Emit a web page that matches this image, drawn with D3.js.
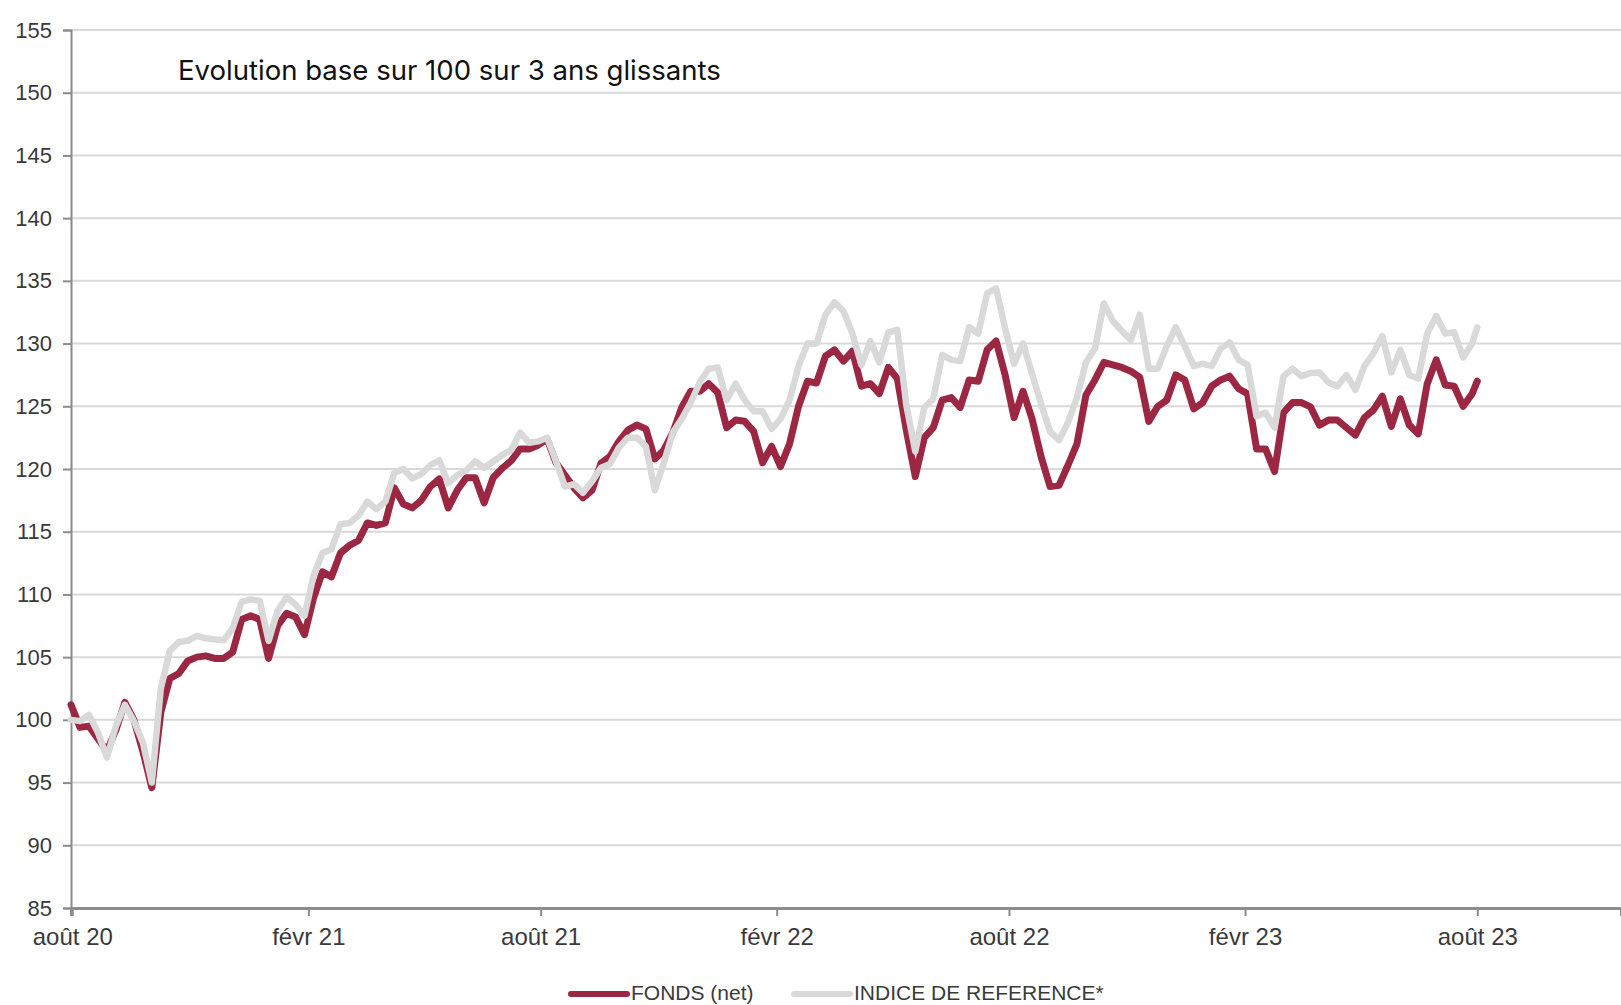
<!DOCTYPE html>
<html lang="fr">
<head>
<meta charset="UTF-8">
<title>Evolution base 100</title>
<script src="https://cdnjs.cloudflare.com/ajax/libs/d3/7.8.5/d3.min.js"></script>
<style>
  body { margin: 0; background: #fff; overflow: hidden; }
  svg { display: block; }
  .tick text { fill: #3a3a3a; font-family: "Liberation Sans", Arial, sans-serif; }
</style>
</head>
<body>
<svg id="chart" width="1621" height="1005"></svg>
<script>
// weekly closes (Fridays), last point 1 Aug 2023
const dates = [
  "2020-07-31","2020-08-07","2020-08-14","2020-08-21","2020-08-28","2020-09-04","2020-09-11","2020-09-18","2020-09-25","2020-10-02",
  "2020-10-09","2020-10-16","2020-10-23","2020-10-30","2020-11-06","2020-11-13","2020-11-20","2020-11-27","2020-12-04","2020-12-11",
  "2020-12-18","2020-12-25","2021-01-01","2021-01-08","2021-01-15","2021-01-22","2021-01-29","2021-02-05","2021-02-12","2021-02-19",
  "2021-02-26","2021-03-05","2021-03-12","2021-03-19","2021-03-26","2021-04-02","2021-04-09","2021-04-16","2021-04-23","2021-04-30",
  "2021-05-07","2021-05-14","2021-05-21","2021-05-28","2021-06-04","2021-06-11","2021-06-18","2021-06-25","2021-07-02","2021-07-09",
  "2021-07-16","2021-07-23","2021-07-30","2021-08-06","2021-08-13","2021-08-20","2021-08-27","2021-09-03","2021-09-10","2021-09-17",
  "2021-09-24","2021-10-01","2021-10-08","2021-10-15","2021-10-22","2021-10-29","2021-11-05","2021-11-12","2021-11-19","2021-11-26",
  "2021-12-03","2021-12-10","2021-12-17","2021-12-24","2021-12-31","2022-01-07","2022-01-14","2022-01-21","2022-01-28","2022-02-04",
  "2022-02-11","2022-02-18","2022-02-25","2022-03-04","2022-03-11","2022-03-18","2022-03-25","2022-04-01","2022-04-08","2022-04-15",
  "2022-04-22","2022-04-29","2022-05-06","2022-05-13","2022-05-20","2022-05-27","2022-06-03","2022-06-10","2022-06-17","2022-06-24",
  "2022-07-01","2022-07-08","2022-07-15","2022-07-22","2022-07-29","2022-08-05","2022-08-12","2022-08-19","2022-08-26","2022-09-02",
  "2022-09-09","2022-09-16","2022-09-23","2022-09-30","2022-10-07","2022-10-14","2022-10-21","2022-10-28","2022-11-04","2022-11-11",
  "2022-11-18","2022-11-25","2022-12-02","2022-12-09","2022-12-16","2022-12-23","2022-12-30","2023-01-06","2023-01-13","2023-01-20",
  "2023-01-27","2023-02-03","2023-02-10","2023-02-17","2023-02-24","2023-03-03","2023-03-10","2023-03-17","2023-03-24","2023-03-31",
  "2023-04-07","2023-04-14","2023-04-21","2023-04-28","2023-05-05","2023-05-12","2023-05-19","2023-05-26","2023-06-02","2023-06-09",
  "2023-06-16","2023-06-23","2023-06-30","2023-07-07","2023-07-14","2023-07-21","2023-07-28","2023-08-01"
];

const fonds = [
  101.2, 99.4, 99.5, 98.5, 97.5, 99.2, 101.4, 100.0, 97.5, 94.6,
  100.6, 103.3, 103.7, 104.7, 105.0, 105.1, 104.9, 104.9, 105.4, 108.0,
  108.3, 108.0, 104.9, 107.5, 108.5, 108.2, 106.8, 109.7, 111.8, 111.4,
  113.3, 113.9, 114.3, 115.7, 115.5, 115.7, 118.5, 117.2, 116.9, 117.5,
  118.6, 119.2, 116.9, 118.3, 119.3, 119.3, 117.3, 119.3, 120.05, 120.65,
  121.6, 121.6, 121.9, 122.4, 120.5, 119.5, 118.5, 117.7, 118.3, 120.45,
  121.0, 122.2, 123.1, 123.5, 123.2, 120.8, 121.5, 122.9, 124.9, 126.2,
  126.2, 126.8, 126.1, 123.3, 123.9, 123.8, 123.0, 120.5, 121.8, 120.2,
  122.0, 125.0, 127.0, 126.85, 129.0, 129.5, 128.6, 129.4, 126.6, 126.8,
  126.0, 128.1, 127.2, 123.1, 119.4, 122.5, 123.3, 125.5, 125.7, 124.9,
  127.1, 127.0, 129.5, 130.2, 127.5, 124.1, 126.2, 124.0, 121.0, 118.6,
  118.7, 120.3, 122.0, 125.9, 127.1, 128.5, 128.3, 128.1, 127.8, 127.3,
  123.8, 125.0, 125.5, 127.5, 127.1, 124.8, 125.3, 126.6, 127.1, 127.4,
  126.4, 126.0, 121.6, 121.6, 119.8, 124.5, 125.3, 125.3, 124.95, 123.5,
  123.9, 123.9, 123.3, 122.7, 124.1, 124.7, 125.8, 123.4, 125.6, 123.5,
  122.8, 126.8, 128.7, 126.7, 126.6, 125.0, 126.0, 127.0
];

const indice = [
  100.0, 99.9, 100.4, 99.0, 97.0, 99.5, 101.2, 99.9, 98.2, 95.0,
  102.5, 105.5, 106.2, 106.3, 106.7, 106.5, 106.4, 106.35, 107.3, 109.4,
  109.6, 109.5, 106.3, 108.7, 109.8, 109.2, 108.3, 111.5, 113.3, 113.6,
  115.6, 115.7, 116.3, 117.4, 116.8, 117.4, 119.7, 120.0, 119.25, 119.6,
  120.3, 120.7, 118.85, 119.5, 119.9, 120.6, 120.1, 120.6, 121.1, 121.5,
  122.9, 122.1, 122.2, 122.5, 120.6, 118.6, 118.8, 118.1, 119.0, 120.1,
  120.4, 121.7, 122.5, 122.5, 121.8, 118.3, 120.5, 122.9, 124.0, 125.3,
  126.9, 128.0, 128.1, 125.5, 126.8, 125.5, 124.6, 124.6, 123.2, 124.0,
  125.5, 128.2, 130.0, 130.0, 132.3, 133.3, 132.6, 130.8, 128.3, 130.2,
  128.5, 130.9, 131.1, 125.1, 121.4, 124.9, 125.6, 129.1, 128.7, 128.6,
  131.3, 130.8, 134.0, 134.4, 131.2, 128.4, 130.0, 127.6, 125.2, 123.0,
  122.3, 123.7, 125.7, 128.5, 129.6, 133.2, 131.8, 131.0, 130.3, 132.3,
  128.0, 128.0, 129.8, 131.3, 129.8, 128.2, 128.4, 128.2, 129.6, 130.1,
  128.7, 128.3, 124.2, 124.5, 123.3, 127.4, 128.0, 127.4, 127.65, 127.7,
  126.9, 126.6, 127.5, 126.3, 128.2, 129.2, 130.6, 127.7, 129.5, 127.5,
  127.2, 130.8, 132.2, 130.8, 130.9, 128.9, 130.0, 131.3
];

const yTicks = [85, 90, 95, 100, 105, 110, 115, 120, 125, 130, 135, 140, 145, 150, 155];
const xTickDates = ["2020-08-01","2021-02-01","2021-08-01","2022-02-01","2022-08-01","2023-02-01","2023-08-01"];
const xTickLabels = ["août 20","févr 21","août 21","févr 22","août 22","févr 23","août 23"];
const seriesNames = ["FONDS (net)", "INDICE DE REFERENCE*"];
const title = "Evolution base sur 100 sur 3 ans glissants";

const parse = d3.timeParse("%Y-%m-%d");
const rows = dates.map((d, i) => ({ date: parse(d), fonds: fonds[i], indice: indice[i] }));

const svg = d3.select("#chart");
const plotLeft = 71, plotRight = 1621, plotTop = 30, plotBottom = 908;

const x = d3.scaleTime()
  .domain([parse("2020-07-31"), parse("2023-11-21")])
  .range([plotLeft, plotRight]);
const y = d3.scaleLinear().domain([85, 155]).range([plotBottom, plotTop]);

svg.append("rect").attr("width", 1621).attr("height", 1005).attr("fill", "#fff");

// gridlines
svg.append("g")
  .selectAll("line")
  .data(yTicks.filter(t => t > 85))
  .join("line")
  .attr("x1", plotLeft).attr("x2", plotRight)
  .attr("y1", d => y(d)).attr("y2", d => y(d))
  .attr("stroke", "#d9d9d9").attr("stroke-width", 2);

// y axis
const yAxis = svg.append("g")
  .attr("transform", `translate(${plotLeft},0)`)
  .call(d3.axisLeft(y).tickValues(yTicks).tickSize(8).tickPadding(11));
yAxis.select(".domain").attr("stroke", "#8c8c8c").attr("stroke-width", 2);
yAxis.selectAll(".tick line").attr("stroke", "#8c8c8c").attr("stroke-width", 2);
yAxis.selectAll(".tick text").style("font-size", "22px");

// x axis
const xAxis = svg.append("g")
  .attr("transform", `translate(0,${plotBottom})`)
  .call(d3.axisBottom(x)
    .tickValues(xTickDates.map(parse))
    .tickFormat((d, i) => xTickLabels[i])
    .tickSize(8).tickPadding(12));
xAxis.select(".domain").attr("stroke", "#8c8c8c").attr("stroke-width", 3);
xAxis.selectAll(".tick line").attr("stroke", "#8c8c8c").attr("stroke-width", 2);
xAxis.selectAll(".tick text").style("font-size", "24px");

// series: fund first, benchmark drawn over it
const lineF = d3.line().x(d => x(d.date)).y(d => y(d.fonds));
const lineI = d3.line().x(d => x(d.date)).y(d => y(d.indice));

svg.append("path").datum(rows)
  .attr("d", lineF)
  .attr("fill", "none").attr("stroke", "#9b2743")
  .attr("stroke-width", 7).attr("stroke-linejoin", "round").attr("stroke-linecap", "round");

svg.append("path").datum(rows)
  .attr("d", lineI)
  .attr("fill", "none").attr("stroke", "#d9d9d9")
  .attr("stroke-width", 6.5).attr("stroke-linejoin", "round").attr("stroke-linecap", "round");

// title, sized to the reference width
const titleText = svg.append("text")
  .attr("x", 178).attr("y", 80)
  .attr("fill", "#111")
  .style("font-family", "Inter, 'Open Sans', sans-serif")
  .style("font-size", "28px")
  .text(title);
const tw = titleText.node().getComputedTextLength();
titleText.style("font-size", (28 * 543 / tw).toFixed(2) + "px");

// legend
const legendColors = ["#9b2743", "#d9d9d9"];
const legendX = [571, 794];
const lg = svg.append("g");
seriesNames.forEach((name, i) => {
  lg.append("line")
    .attr("x1", legendX[i]).attr("x2", legendX[i] + 56)
    .attr("y1", 994).attr("y2", 994)
    .attr("stroke", legendColors[i]).attr("stroke-width", 6)
    .attr("stroke-linecap", "round");
  lg.append("text")
    .attr("x", legendX[i] + 60).attr("y", 1000)
    .attr("fill", "#3a3a3a")
    .style("font-family", "'Liberation Sans', Arial, sans-serif")
    .style("font-size", "21px")
    .text(name);
});
</script>
</body>
</html>
